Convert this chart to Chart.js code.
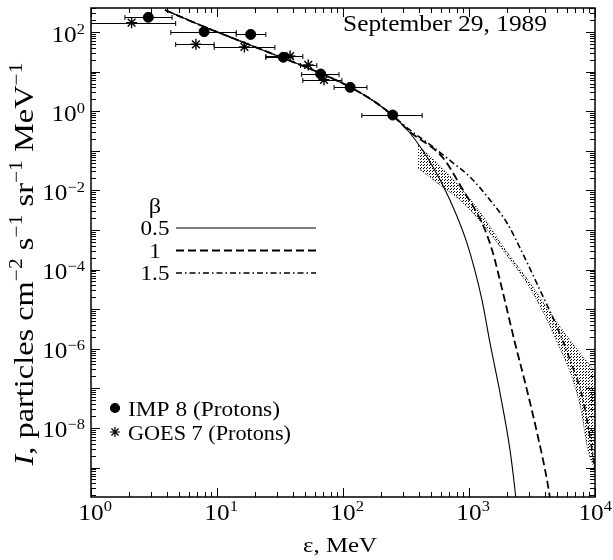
<!DOCTYPE html>
<html>
<head>
<meta charset="utf-8">
<script src="https://cdn.jsdelivr.net/npm/chart.js@4.4.1/dist/chart.umd.min.js"></script>
<style>
  body { margin: 0; background: #fff; }
  #wrap { width: 613px; height: 560px; }
</style>
</head>
<body>
<div id="wrap"><canvas id="myChart" width="613" height="560"></canvas></div>
<script>
// IMP 8 protons: channel energy, flux and channel edges
const impEnergy = [2.85, 7.9, 18.5, 33.6, 66.5, 114, 248];
const impFlux = [235, 102, 87, 23, 8.7, 4.0, 0.8];
const impLow = [1.86, 4.3, 14.2, 24.4, 47, 85, 141];
const impHigh = [4.4, 14.2, 24.4, 40, 93, 155, 425];

// GOES 7 protons
const goesEnergy = [2.1, 6.8, 16.5, 38, 53, 70.6];
const goesFlux = [172, 49, 42, 24.6, 14.7, 6.2];
const goesLow = [1, 4.7, 9.5, 24.4, 46, 48];
const goesHigh = [4.7, 9.5, 28.8, 48, 62, 98];

// model spectra share the low-energy part, then split by beta
const modelEnergy = [3.87, 7.33, 15.2, 33.4, 65.7, 113.6, 179.6, 245];
const modelFlux = [359, 150, 59.3, 22.0, 9.2, 4.08, 1.71, 0.8];
const tail05Energy = [340, 518, 706, 963, 1268, 1468, 1762, 2115, 2317, 2404];
const tail05Flux = [0.281, 0.039, 5.7e-3, 4.7e-4, 1.7e-5, 1.4e-6, 7.7e-8, 2.8e-9, 2.7e-10, 8.5e-11];
const tail1Energy = [340, 622, 896, 1268, 1524, 1862, 2317, 2884, 3530, 4159, 4477];
const tail1Flux = [0.3, 0.066, 0.0102, 1.5e-3, 3.13e-4, 2.56e-5, 1.4e-6, 9.1e-8, 5.9e-9, 4.9e-10, 1.14e-10];
const tail15Energy = [340, 518, 733, 1019, 1468, 2003, 2541, 3656, 4989, 6338, 8036, 9462, 10000];
const tail15Flux = [0.335, 0.125, 0.052, 0.0218, 5.7e-3, 1.5e-3, 3.5e-4, 3.05e-5, 3.56e-6, 5.2e-7, 5.1e-8, 2.8e-9, 8.7e-10];

// high-energy band (upper and lower edge)
const bandEnergy = [394, 589, 849, 1222, 1828, 3048, 4643, 7603, 8790, 10000];
const bandUpper = [0.14, 0.0413, 0.0122, 2.85e-3, 4.18e-4, 4.59e-5, 6.35e-6, 7.8e-7, 4.4e-7, 2.6e-7];
const bandLower = [0.0368, 0.0137, 5.7e-3, 1.69e-3, 3.3e-4, 3.4e-5, 2.5e-6, 3.8e-8, 2.78e-9, 8.7e-10];

const betaLabels = ["0.5", "1", "1.5"];
const xTickExp = [0, 1, 2, 3, 4];
const yTickExp = [2, 0, -2, -4, -6, -8];

const serif = '"Liberation Serif", "Times New Roman", serif';

const toPoints = (xs, ys) => xs.map((x, i) => ({ x: x, y: ys[i] }));

const makeStipple = (ctx) => {
  const c = document.createElement("canvas");
  c.width = 3;
  c.height = 3;
  const g = c.getContext("2d");
  g.fillStyle = "#000";
  g.fillRect(0, 0, 1, 1);
  g.fillRect(1, 2, 1, 1);
  return ctx.createPattern(c, "repeat");
};

// text with superscripts, optionally stretched to a given width
const drawRich = (ctx, parts, x, y, o = {}) => {
  const size = o.size || 22;
  const supSize = o.supSize || 15;
  const rise = o.rise || 9;
  const fontOf = (p) => `${p.italic ? "italic " : ""}${p.sup ? supSize : size}px ${serif}`;
  let natural = 0;
  parts.forEach((p) => {
    ctx.font = fontOf(p);
    p.w = ctx.measureText(p.t).width;
    natural += p.w;
  });
  const sx = o.width ? o.width / natural : o.stretch || 1.1;
  let cx = 0;
  if (o.align === "center") cx = -natural / 2;
  if (o.align === "right") cx = -natural;
  if (o.align === "first") cx = -parts[0].w / 2;
  // keep the label inside the canvas
  if (o.maxRight && x + (cx + natural) * sx > o.maxRight) cx = (o.maxRight - x) / sx - natural;
  ctx.save();
  ctx.translate(x, y);
  if (o.rotate) ctx.rotate(o.rotate);
  ctx.scale(sx, 1);
  ctx.fillStyle = "#000";
  ctx.textAlign = "left";
  ctx.textBaseline = "alphabetic";
  parts.forEach((p) => {
    ctx.font = fontOf(p);
    ctx.fillText(p.t, cx, p.sup ? -rise : 0);
    cx += p.w;
  });
  ctx.restore();
};

const pow = (e) => [{ t: "10" }, { t: e < 0 ? "\u2212" + -e : String(e), sup: true }];

const line = (ctx, x1, y1, x2, y2) => {
  ctx.beginPath();
  ctx.moveTo(x1, y1);
  ctx.lineTo(x2, y2);
  ctx.stroke();
};

// horizontal error bars for datasets that carry errLow / errHigh
const errorBars = {
  id: "errorBars",
  afterDatasetsDraw(chart) {
    const { ctx, chartArea: a, scales } = chart;
    ctx.save();
    ctx.beginPath();
    ctx.rect(a.left, a.top, a.right - a.left, a.bottom - a.top);
    ctx.clip();
    ctx.strokeStyle = "#000";
    ctx.lineWidth = 1;
    chart.data.datasets.forEach((ds) => {
      if (!ds.errLow) return;
      ds.data.forEach((pt, i) => {
        const y = Math.round(scales.y.getPixelForValue(pt.y)) + 0.5;
        const x1 = scales.x.getPixelForValue(ds.errLow[i]);
        const x2 = scales.x.getPixelForValue(ds.errHigh[i]);
        line(ctx, x1, y, x2, y);
        line(ctx, x1, y - 2.5, x1, y + 2.5);
        line(ctx, x2, y - 2.5, x2, y + 2.5);
      });
    });
    ctx.restore();
  },
};

// frame, inward log ticks, labels and legends
const frame = {
  id: "frame",
  afterDraw(chart) {
    const { ctx, chartArea: a, scales } = chart;
    const x = scales.x;
    const y = scales.y;
    ctx.save();
    ctx.strokeStyle = "#000";
    ctx.lineWidth = 1;

    for (let e = 0; e <= 4; e++) {
      for (let k = 1; k < 10; k++) {
        const v = k * Math.pow(10, e);
        if (v > x.max * 1.0001) break;
        const px = Math.round(x.getPixelForValue(v)) + 0.5;
        const len = k === 1 ? 9 : 5;
        line(ctx, px, a.bottom, px, a.bottom - len);
        line(ctx, px, a.top, px, a.top + len);
      }
    }
    for (let e = -10; e <= 2; e++) {
      for (let k = 1; k < 10; k++) {
        const v = k * Math.pow(10, e);
        if (v < y.min || v > y.max) continue;
        const py = Math.round(y.getPixelForValue(v)) + 0.5;
        const len = k === 1 ? 9 : 5;
        line(ctx, a.left, py, a.left + len, py);
        line(ctx, a.right, py, a.right - len, py);
      }
    }
    ctx.lineWidth = 1.5;
    ctx.strokeRect(a.left, a.top, a.right - a.left, a.bottom - a.top);

    xTickExp.forEach((e) => {
      drawRich(ctx, pow(e), x.getPixelForValue(Math.pow(10, e)), a.bottom + 23, { size: 23, align: "first", maxRight: 612 });
    });
    yTickExp.forEach((e) => {
      drawRich(ctx, pow(e), 85, y.getPixelForValue(Math.pow(10, e)) + 9.5, { size: 23, align: "right", rise: 8 });
    });

    drawRich(ctx, [{ t: "\u03b5, MeV" }], 340, 552, { size: 22, align: "center", width: 74 });
    drawRich(
      ctx,
      [
        { t: "I", italic: true },
        { t: ", particles cm" },
        { t: "\u22122", sup: true },
        { t: " s" },
        { t: "\u22121", sup: true },
        { t: " sr" },
        { t: "\u22121", sup: true },
        { t: " MeV" },
        { t: "\u22121", sup: true },
      ],
      33, 264,
      { size: 27, supSize: 18, rise: 11, align: "center", rotate: -Math.PI / 2, width: 403 }
    );
    drawRich(ctx, [{ t: "September 29, 1989" }], 343, 31, { size: 23, width: 204 });

    // beta legend
    drawRich(ctx, [{ t: "\u03b2" }], 155, 213, { size: 22, align: "center" });
    betaLabels.forEach((lab, i) => {
      const ds = chart.data.datasets[2 + i];
      const rowY = 228 + i * 22.5;
      drawRich(ctx, [{ t: lab }], 155, rowY + 7, { size: 21, align: "center" });
      ctx.lineWidth = ds.borderWidth;
      ctx.setLineDash(ds.borderDash || []);
      line(ctx, 176, rowY, 316, rowY);
      ctx.setLineDash([]);
    });

    // instrument legend
    ctx.fillStyle = "#000";
    ctx.lineWidth = 1.2;
    Chart.helpers.drawPoint(ctx, { pointStyle: "circle", radius: 4.5, borderWidth: 1 }, 115, 408);
    Chart.helpers.drawPoint(ctx, { pointStyle: "star", radius: 5, borderWidth: 1.2 }, 115, 432);
    drawRich(ctx, [{ t: "IMP 8 (Protons)" }], 128, 416, { size: 22, width: 152 });
    drawRich(ctx, [{ t: "GOES 7 (Protons)" }], 128, 440, { size: 22, width: 163 });
    ctx.restore();
  },
};

const myChart = document.getElementById("myChart");
const stipple = makeStipple(myChart.getContext("2d"));

const newChart = new Chart(myChart, {
  type: "scatter",
  data: {
    datasets: [
      {
        label: "IMP 8 (Protons)",
        data: toPoints(impEnergy, impFlux),
        errLow: impLow,
        errHigh: impHigh,
        pointStyle: "circle",
        pointRadius: 5,
        backgroundColor: "#000",
        borderColor: "#000",
        borderWidth: 1,
      },
      {
        label: "GOES 7 (Protons)",
        data: toPoints(goesEnergy, goesFlux),
        errLow: goesLow,
        errHigh: goesHigh,
        pointStyle: "star",
        pointRadius: 5.5,
        backgroundColor: "#000",
        borderColor: "#000",
        borderWidth: 1.4,
      },
      {
        label: "0.5",
        data: toPoints(modelEnergy.concat(tail05Energy), modelFlux.concat(tail05Flux)),
        showLine: true,
        pointRadius: 0,
        borderColor: "#000",
        borderWidth: 1.1,
        cubicInterpolationMode: "monotone",
      },
      {
        label: "1",
        data: toPoints(modelEnergy.concat(tail1Energy), modelFlux.concat(tail1Flux)),
        showLine: true,
        pointRadius: 0,
        borderColor: "#000",
        borderWidth: 1.8,
        borderDash: [8, 4],
        cubicInterpolationMode: "monotone",
      },
      {
        label: "1.5",
        data: toPoints(modelEnergy.concat(tail15Energy), modelFlux.concat(tail15Flux)),
        showLine: true,
        pointRadius: 0,
        borderColor: "#000",
        borderWidth: 1.6,
        borderDash: [6, 3, 1.5, 3],
        cubicInterpolationMode: "monotone",
      },
      {
        label: "band upper",
        data: toPoints(bandEnergy, bandUpper),
        showLine: true,
        pointRadius: 0,
        borderColor: "#222",
        borderWidth: 1,
        borderDash: [1, 2],
        cubicInterpolationMode: "monotone",
      },
      {
        label: "band lower",
        data: toPoints(bandEnergy, bandLower),
        showLine: true,
        pointRadius: 0,
        borderColor: "#222",
        borderWidth: 1,
        borderDash: [1, 2],
        backgroundColor: stipple,
        fill: "-1",
        cubicInterpolationMode: "monotone",
      },
    ],
  },
  options: {
    responsive: false,
    animation: false,
    events: [],
    layout: { padding: { left: 91, right: 18, top: 8, bottom: 63 } },
    scales: {
      x: { type: "logarithmic", min: 1, max: 10000, display: false },
      y: { type: "logarithmic", min: 1.8e-10, max: 404, display: false },
    },
    plugins: {
      legend: { display: false },
      tooltip: { enabled: false },
    },
  },
  plugins: [errorBars, frame],
});
</script>
</body>
</html>
